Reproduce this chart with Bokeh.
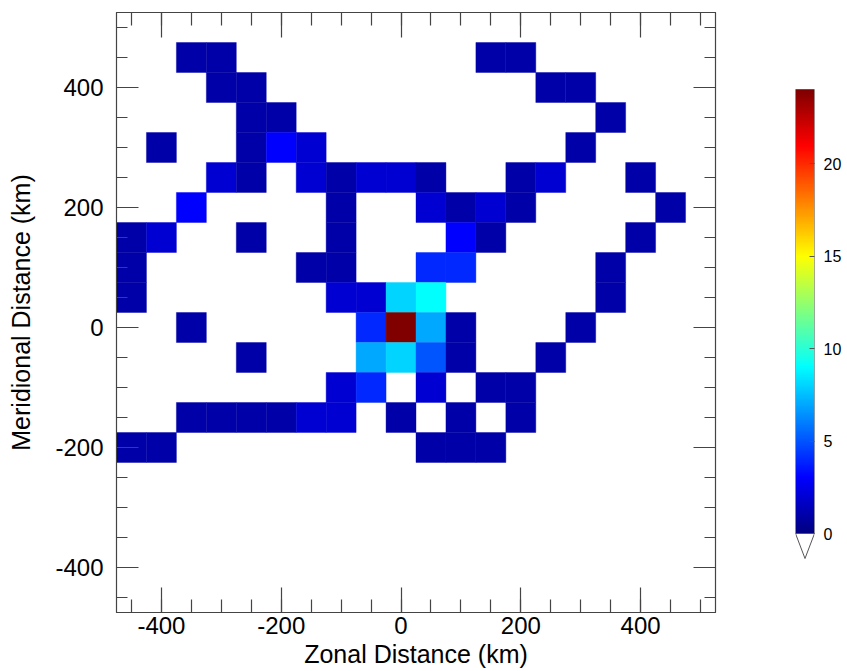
import numpy as np
from bokeh.plotting import figure
from bokeh.models import (Range1d, LinearAxis, FixedTicker, LinearColorMapper,
                          ColumnDataSource, CustomJSTickFormatter)
from bokeh.layouts import row
from bokeh.embed import file_html
from bokeh.resources import INLINE

# ---------------- data (cell centres in km, counts) ----------------
zonal_km = [
    -350, -300, 150, 200,
    -300, -250, 250, 300,
    -250, -200, 350,
    -400, -250, -200, -150, 300,
    -300, -250, -150, -100, -50, 0, 50, 200, 250, 400,
    -350, -100, 50, 100, 150, 200, 450,
    -450, -400, -250, -100, 100, 150, 400,
    -450, -150, -100, 50, 100, 350,
    -450, -100, -50, 0, 50, 350,
    -350, -50, 0, 50, 100, 300,
    -250, -50, 0, 50, 100, 250,
    -100, -50, 50, 150, 200,
    -350, -300, -250, -200, -150, -100, 0, 100, 200,
    -450, -400, 50, 100, 150,
]
meridional_km = (
    [450] * 4 + [400] * 4 + [350] * 3 + [300] * 5 + [250] * 10 + [200] * 7
    + [150] * 7 + [100] * 6 + [50] * 6 + [0] * 6 + [-50] * 6 + [-100] * 5
    + [-150] * 9 + [-200] * 5
)
counts = [
    1, 1, 1, 1,
    1, 1, 1, 1,
    1, 1, 1,
    1, 1, 3, 2, 1,
    2, 1, 2, 1, 2, 2, 1, 1, 2, 1,
    3, 1, 2, 1, 2, 1, 1,
    1, 2, 1, 1, 3, 1, 1,
    1, 1, 1, 4, 4, 1,
    1, 2, 2, 8, 9, 1,
    1, 4, 24, 7, 1, 1,
    1, 7, 8, 5, 1, 1,
    2, 4, 2, 1, 1,
    1, 1, 1, 1, 2, 2, 1, 1, 1,
    1, 1, 1, 1, 1,
]
x_major_ticks = [-400, -200, 0, 200, 400]
y_major_ticks = [-400, -200, 0, 200, 400]
minor_ticks = list(range(-450, 525, 50))
cbar_ticks = [0, 5, 10, 15, 20]
cbar_max = 24
cell = 50

# ---------------- jet palette (MATLAB style) ----------------
def jet(t):
    def f(pts):
        xs, ys = zip(*pts)
        return float(np.interp(t, xs, ys))
    r = f([(0, 0), (0.375, 0), (0.625, 1), (0.875, 1), (1, 0.5)])
    g = f([(0, 0), (0.125, 0), (0.375, 1), (0.625, 1), (0.875, 0), (1, 0)])
    b = f([(0, 0.5), (0.125, 1), (0.375, 1), (0.625, 0), (1, 0)])
    return "#%02x%02x%02x" % (int(round(r * 255)), int(round(g * 255)), int(round(b * 255)))

JET = [jet(i / 255) for i in range(256)]
mapper = LinearColorMapper(palette=JET, low=0, high=cbar_max)

FONT = "Liberation Sans"
AX = "#444444"
plain = CustomJSTickFormatter(code="return tick.toFixed(0)")

# ---------------- main figure ----------------
src = ColumnDataSource(dict(x=zonal_km, y=meridional_km, c=counts))
p = figure(width=770, height=671, x_range=Range1d(-475, 525), y_range=Range1d(-475, 525),
           output_backend="svg", toolbar_location=None,
           min_border_left=116, min_border_right=55, min_border_top=12, min_border_bottom=59,
           x_axis_label="Zonal Distance (km)", y_axis_label="Meridional Distance (km)")
p.grid.visible = False
p.outline_line_color = AX
p.outline_line_width = 1.2
p.background_fill_color = "white"
p.border_fill_color = "white"

p.rect(x="x", y="y", width=cell, height=cell, source=src,
       fill_color={"field": "c", "transform": mapper},
       line_color={"field": "c", "transform": mapper}, line_width=0.4)

def style_axis(ax, ticks, major_len, minor_len, labels=True):
    ax.ticker = FixedTicker(ticks=ticks, minor_ticks=minor_ticks)
    ax.major_tick_in = major_len
    ax.major_tick_out = 0
    ax.minor_tick_in = minor_len
    ax.minor_tick_out = 0
    ax.axis_line_color = AX
    ax.major_tick_line_color = AX
    ax.minor_tick_line_color = AX
    ax.major_tick_line_width = 1.2
    ax.minor_tick_line_width = 1.2
    ax.major_label_text_font = FONT
    ax.major_label_text_color = "black"
    ax.axis_label_text_font = FONT
    ax.axis_label_text_font_style = "normal"
    ax.axis_label_text_color = "black"
    ax.axis_label_text_font_size = "25px"
    if labels:
        ax.formatter = plain
        ax.major_label_text_font_size = "24px"
    else:
        ax.formatter = CustomJSTickFormatter(code="return ''")
        ax.major_label_text_font_size = "1px"
        ax.major_label_standoff = 0

xb = p.xaxis[0]
style_axis(xb, x_major_ticks, 25, 13)
xb.major_label_standoff = 4
xb.axis_label_standoff = 3

yl = p.yaxis[0]
style_axis(yl, y_major_ticks, 22, 11)
yl.major_label_standoff = 13
yl.axis_label_standoff = 17

top = LinearAxis()
style_axis(top, x_major_ticks, 25, 13, labels=False)
p.add_layout(top, "above")
right = LinearAxis()
style_axis(right, y_major_ticks, 22, 11, labels=False)
p.add_layout(right, "right")

# ---------------- colour bar figure ----------------
# frame is aligned with main frame (y 12..612); bar spans y 89..533 on screen
px_per_unit = (533 - 89) / cbar_max
cb_top = cbar_max + (89 - 12) / px_per_unit
cb_bottom = -(612 - 533) / px_per_unit
tri_depth = 25 / px_per_unit
cb = figure(width=77, height=671, x_range=Range1d(0, 1), y_range=Range1d(cb_bottom, cb_top),
            output_backend="svg", toolbar_location=None,
            x_axis_location=None, y_axis_location="right",
            min_border_left=25, min_border_right=33, min_border_top=12, min_border_bottom=59)
cb.grid.visible = False
cb.outline_line_color = None
cb.background_fill_color = "white"
cb.border_fill_color = "white"
cb.image(image=[np.linspace(0, cbar_max, 256).reshape(256, 1)], x=0, y=0, dw=1, dh=cbar_max,
         color_mapper=mapper)
cb.quad(left=0, right=1, bottom=0, top=cbar_max, fill_color=None, line_color="#555555", line_width=1)
cb.patch([0, 1, 0.5], [0, 0, -tri_depth], fill_color="white", line_color="#555555", line_width=1)
cy = cb.yaxis[0]
cy.ticker = FixedTicker(ticks=cbar_ticks, minor_ticks=[])
cy.formatter = plain
cy.major_tick_in = 5
cy.major_tick_out = 0
cy.major_tick_line_color = "#555555"
cy.axis_line_color = None
cy.major_label_standoff = 9
cy.major_label_text_font = FONT
cy.major_label_text_font_size = "16px"
cy.major_label_text_color = "black"

layout = row(p, cb)
open("out.html", "w").write(file_html(layout, INLINE))
